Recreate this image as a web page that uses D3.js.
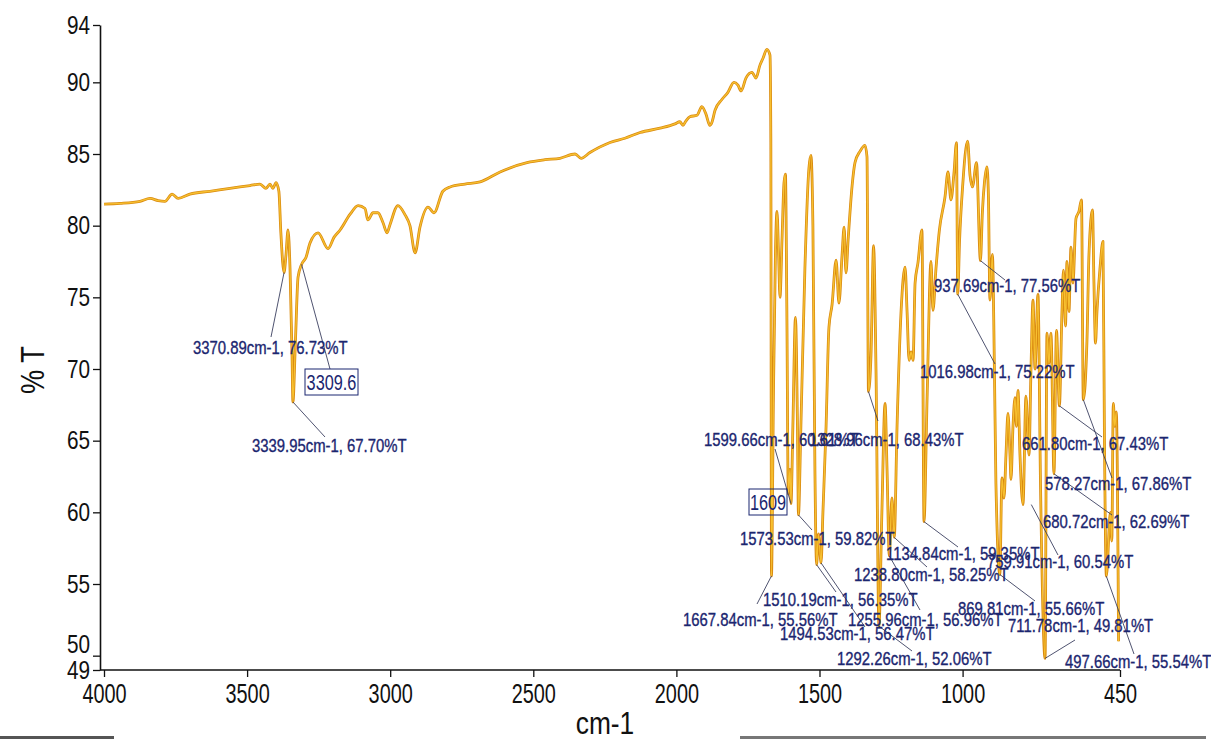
<!DOCTYPE html>
<html>
<head>
  <meta charset="utf-8">
  <title>FTIR spectrum</title>
  <script src="https://d3js.org/d3.v7.min.js"></script>
  <style>
    html, body { margin: 0; background: #fff; overflow: hidden; }
    svg { display: block; }
    text { font-family: "Liberation Sans", Arial, sans-serif; }
  </style>
</head>
<body>
  <div id="chart"></div>
  <script>
    const xTicks = [4000, 3500, 3000, 2500, 2000, 1500, 1000, 450];
    const yTicks = [49, 50, 55, 60, 65, 70, 75, 80, 85, 90, 94];

    // [wavenumber cm-1, %T]
    const spectrum = [
      [4000, 81.5], [3944, 81.55], [3874, 81.7], [3839, 81.9], [3811, 81.75], [3787, 81.7],
      [3762, 82.2], [3741, 81.9], [3700, 82.2], [3630, 82.4], [3560, 82.6], [3490, 82.8],
      [3455, 82.9], [3434, 82.6], [3420, 82.9], [3410, 82.6], [3399, 83.0], [3389, 82.4],
      [3382, 79.5], [3370.89, 76.73], [3364, 78], [3357, 79.7], [3350, 77], [3343, 71],
      [3339.95, 67.7], [3331, 72], [3322, 76.4], [3309.6, 77.3], [3294, 77.8], [3280, 78.8],
      [3252, 79.5], [3217, 78.4], [3196, 79.2], [3175, 79.7], [3140, 80.8], [3112, 81.4],
      [3088, 81.2], [3078, 80.4], [3060, 80.9], [3043, 80.9], [3025, 80.2], [3011, 79.5],
      [3001, 80.05], [2973, 81.4], [2948, 80.75], [2931, 80.0], [2913, 78.1], [2896, 79.9],
      [2868, 81.3], [2847, 80.9], [2816, 82.4], [2791, 82.7], [2739, 82.9], [2686, 83.05],
      [2616, 83.75], [2522, 84.4], [2459, 84.6], [2407, 84.7], [2354, 85.0], [2333, 84.7],
      [2302, 85.1], [2232, 85.8], [2180, 86.1], [2127, 86.5], [2057, 86.8], [2005, 87.1],
      [1988, 87.25], [1977, 87.0], [1967, 87.3], [1953, 87.6], [1928, 87.7], [1911, 88.3],
      [1897, 87.8], [1883, 87.0], [1876, 87.2], [1865, 88.05], [1841, 88.8], [1820, 89.3],
      [1799, 90.0], [1785, 89.8], [1774, 89.4], [1757, 90.3], [1736, 90.7], [1722, 90.3],
      [1708, 91.2], [1697, 91.7], [1684, 92.3], [1673, 91.9], [1670, 86], [1667.84, 55.56],
      [1661, 68], [1654, 78], [1648.5, 81.0], [1643, 78], [1638, 75.0], [1631, 79],
      [1624, 83.0], [1619, 83.6], [1614, 74], [1609, 61.3], [1603, 63], [1599.66, 60.61],
      [1593, 66], [1584, 73.6], [1577, 66], [1573.53, 59.82], [1565, 66], [1551, 77],
      [1537, 84], [1530, 84.9], [1523, 80], [1516, 63], [1510.19, 56.35], [1503.5, 58.5],
      [1494.53, 56.47], [1488, 60], [1477, 66], [1467, 72.9], [1456, 74.5], [1442, 77.6],
      [1432, 74.6], [1421, 78], [1414, 79.9], [1407.5, 76.7], [1400, 79], [1386, 82.8],
      [1376, 84.4], [1358, 85.2], [1341, 85.6], [1334, 84.8], [1328.96, 68.43], [1320, 71],
      [1311, 78.6], [1302.6, 70], [1292.26, 52.06], [1282, 60], [1271, 67.6], [1264, 63],
      [1255.96, 56.96], [1247, 61], [1238.8, 58.25], [1229, 66], [1215, 74], [1201, 77.1],
      [1194, 74], [1187, 70.6], [1180, 71.2], [1173, 70.6], [1166, 76], [1156, 77.4],
      [1142, 79.7], [1134.84, 59.35], [1124, 68], [1110.5, 77.5], [1103.5, 74.1], [1093, 77],
      [1081, 79.7], [1061.5, 82], [1051, 83.75], [1040.6, 81.8], [1030, 83.7], [1021.4, 85.8],
      [1016.98, 75.22], [1010.5, 79], [1000, 82.7], [982.6, 85.9], [974, 83.5], [965.5, 82.7],
      [951.5, 84.4], [937.69, 77.56], [930.7, 81], [923.7, 83], [915, 84.1], [909.7, 82],
      [904.5, 74.8], [895.8, 78], [888.8, 70], [883.5, 62], [869.81, 55.66], [862.4, 62.4],
      [855.4, 61], [848.4, 64], [841.4, 66.9], [834.4, 64], [830.9, 62.3], [823.9, 66],
      [816.9, 68], [811.7, 66], [806.5, 68.5], [799.5, 64], [789, 60.54], [778.5, 68.1],
      [768, 64], [761, 70], [754, 74.8], [747, 70], [736.6, 75.2], [727.8, 62],
      [711.78, 49.81], [705.2, 72.5], [698.2, 70.4], [691.2, 72.5], [680.72, 62.69], [672, 72.7],
      [661.8, 67.43], [652.8, 74], [647.5, 76.9], [640.5, 73], [635.3, 77.5], [628.3, 74],
      [621.3, 78.5], [614.3, 76], [603.8, 80.5], [593.4, 81], [584.6, 81.8], [578.27, 67.86],
      [565.4, 72], [558.4, 78], [546.2, 81.1], [541, 76], [535.7, 71.8], [530.5, 74],
      [520, 77], [509.5, 78.9], [504.3, 65], [497.66, 55.54], [483.6, 60], [478.6, 58],
      [473.4, 67.6], [468.2, 66], [462.9, 67], [455, 51]
    ];

    const peakWavenumbers = [3370.89, 3339.95, 1667.84, 1599.66, 1573.53, 1510.19, 1494.53,
      1328.96, 1292.26, 1255.96, 1238.80, 1134.84, 1016.98, 937.69, 869.81, 759.91, 711.78,
      680.72, 661.80, 578.27, 497.66];
    const peakTransmittance = [76.73, 67.70, 55.56, 60.61, 59.82, 56.35, 56.47,
      68.43, 52.06, 56.96, 58.25, 59.35, 75.22, 77.56, 55.66, 60.54, 49.81,
      62.69, 67.43, 67.86, 55.54];

    const boxedPeaks = ['3309.6', '1609'];
    const boxedWavenumbers = [3309.6, 1609];
    const boxedTransmittance = [77.3, 61.3];

    // where the peak labels sit (pixels): text start, baseline, leader end
    const labelLayout = [
      { x: 193, y: 354, lx: 271, ly: 337 },
      { x: 252, y: 452, lx: 325, ly: 437 },
      { x: 683, y: 626, lx: 757, ly: 604 },
      { x: 704, y: 446, lx: 775, ly: 449 },
      { x: 740, y: 545, lx: 812, ly: 530 },
      { x: 763, y: 606, lx: 836, ly: 592 },
      { x: 780, y: 640, lx: 865, ly: 627 },
      { x: 809, y: 446, lx: 878, ly: 421 },
      { x: 837, y: 665, lx: 912, ly: 651 },
      { x: 848, y: 626, lx: 920, ly: 610 },
      { x: 854, y: 581, lx: 927, ly: 567 },
      { x: 886, y: 560, lx: 958, ly: 547 },
      { x: 920, y: 378, lx: 995, ly: 364 },
      { x: 934, y: 292, lx: 1005, ly: 280 },
      { x: 958, y: 615, lx: 1035, ly: 601 },
      { x: 987, y: 568, lx: 1058, ly: 555 },
      { x: 1008, y: 632, lx: 1075, ly: 640 },
      { x: 1043, y: 528, lx: 1112, ly: 515 },
      { x: 1022, y: 450, lx: 1102, ly: 437 },
      { x: 1045, y: 490, lx: 1112, ly: 478 },
      { x: 1065, y: 668, lx: 1134, ly: 654 }
    ];
    const boxLayout = [
      { x: 305, y: 369, w: 53, h: 26, leader: true },
      { x: 749, y: 489, w: 38, h: 26, leader: false }
    ];

    const W = 1211, H = 739;
    const navy = '#1b2670';

    const svg = d3.select('#chart')
      .append('svg')
      .attr('width', W)
      .attr('height', H);

    svg.append('rect').attr('width', W).attr('height', H).attr('fill', '#fff');

    const x = d3.scaleLinear().domain([4000, 450]).range([104, 1120]);
    const y = d3.scaleLinear().domain([49, 94]).range([670, 25]);

    // y axis
    const yAxis = svg.append('g')
      .attr('transform', 'translate(100,0)')
      .call(d3.axisLeft(y).tickValues(yTicks).tickFormat(d3.format('d'))
        .tickSize(7).tickSizeOuter(0).tickPadding(2));
    yAxis.select('.domain').attr('stroke', '#111').attr('stroke-width', 1.6);
    yAxis.selectAll('.tick line').attr('stroke', '#111').attr('stroke-width', 1.3);
    yAxis.selectAll('.tick text')
      .attr('font-size', 25)
      .attr('fill', '#111')
      .attr('x', -12)
      .attr('transform', 'scale(0.83,1)');
    yAxis.selectAll('.tick text').filter(d => d === 50).attr('dy', '-0.12em');

    // x axis
    const xAxis = svg.append('g')
      .attr('transform', 'translate(0,670)')
      .call(d3.axisBottom(x).tickValues(xTicks).tickFormat(d3.format('d'))
        .tickSize(7).tickSizeOuter(0));
    xAxis.select('.domain').attr('d', 'M100,0H1120').attr('stroke', '#111').attr('stroke-width', 1.6);
    xAxis.selectAll('.tick line').attr('stroke', '#111').attr('stroke-width', 1.3);
    xAxis.selectAll('.tick text')
      .attr('font-size', 28)
      .attr('fill', '#111')
      .attr('y', 33)
      .attr('dy', null)
      .attr('transform', 'scale(0.71,1)');

    // axis titles
    svg.append('text')
      .attr('transform', 'translate(44,370) rotate(-90) scale(0.8,1)')
      .attr('text-anchor', 'middle')
      .attr('font-size', 34)
      .attr('fill', '#111')
      .text('% T');
    svg.append('text')
      .attr('transform', 'translate(605,734) scale(0.85,1)')
      .attr('text-anchor', 'middle')
      .attr('font-size', 31)
      .attr('fill', '#111')
      .text('cm-1');

    // spectrum trace
    const line = d3.line()
      .x(d => x(d[0]))
      .y(d => y(d[1]))
      .curve(d3.curveMonotoneX);
    svg.append('path')
      .datum(spectrum)
      .attr('fill', 'none')
      .attr('stroke', '#d98a10')
      .attr('stroke-width', 2.8)
      .attr('stroke-linejoin', 'round')
      .attr('d', line);
    svg.append('path')
      .datum(spectrum)
      .attr('fill', 'none')
      .attr('stroke', '#f7c030')
      .attr('stroke-width', 1.3)
      .attr('stroke-linejoin', 'round')
      .attr('d', line);

    // peak annotations
    const ann = svg.append('g');
    peakWavenumbers.forEach((wn, i) => {
      const L = labelLayout[i];
      ann.append('line')
        .attr('x1', x(wn)).attr('y1', y(peakTransmittance[i]))
        .attr('x2', L.lx).attr('y2', L.ly)
        .attr('stroke', '#3b4060')
        .attr('stroke-width', 0.9);
    });
    boxedPeaks.forEach((label, i) => {
      const B = boxLayout[i];
      if (B.leader) {
        ann.append('line')
          .attr('x1', x(boxedWavenumbers[i])).attr('y1', y(boxedTransmittance[i]))
          .attr('x2', B.x + 25).attr('y2', B.y)
          .attr('stroke', '#3b4060')
          .attr('stroke-width', 0.9);
      }
      ann.append('rect')
        .attr('x', B.x).attr('y', B.y)
        .attr('width', B.w).attr('height', B.h)
        .attr('fill', 'none')
        .attr('stroke', navy)
        .attr('stroke-width', 1);
      ann.append('text')
        .attr('transform', `translate(${B.x + B.w / 2},${B.y + B.h - 5}) scale(0.74,1)`)
        .attr('text-anchor', 'middle')
        .attr('font-size', 22)
        .attr('fill', navy)
        .text(label);
    });
    peakWavenumbers.forEach((wn, i) => {
      const L = labelLayout[i];
      ann.append('text')
        .attr('transform', `translate(${L.x},${L.y}) scale(0.85,1)`)
        .attr('font-size', 17.5)
        .attr('fill', navy)
        .attr('stroke', navy)
        .attr('stroke-width', 0.35)
        .text(`${wn.toFixed(2)}cm-1, ${peakTransmittance[i].toFixed(2)}%T`);
    });

    // dark scan edge along the bottom
    svg.append('rect').attr('x', 0).attr('y', 736).attr('width', 114).attr('height', 3).attr('fill', '#555');
    svg.append('rect').attr('x', 740).attr('y', 736).attr('width', 466).attr('height', 3).attr('fill', '#777');
  </script>
</body>
</html>
